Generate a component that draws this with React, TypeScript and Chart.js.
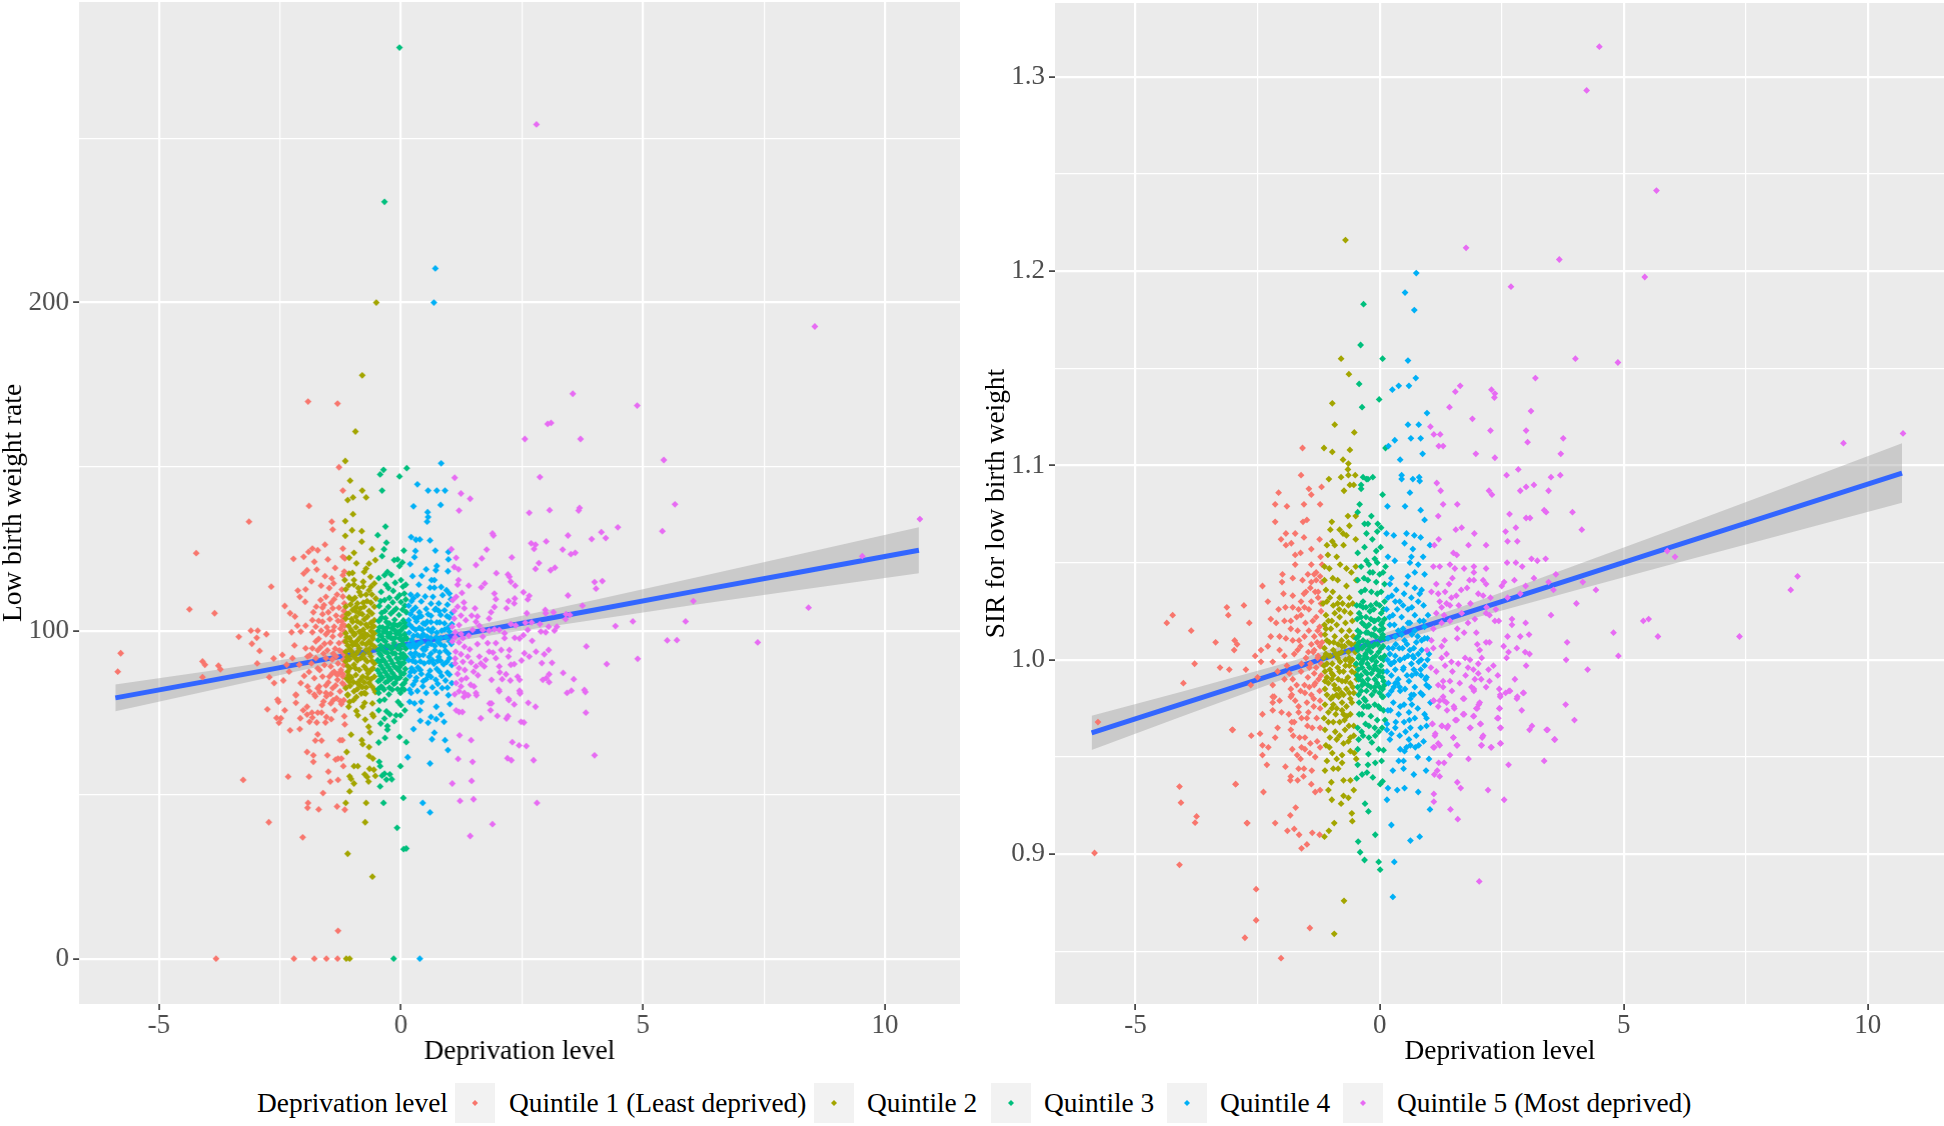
import React, { useEffect, useRef } from "react";
import { Chart, registerables } from "chart.js";
Chart.register(...registerables);

const xMajor = [-5, 0, 5, 10];
const xMinor = [-2.5, 2.5, 7.5];
const leftYMajor = [0, 100, 200];
const leftYMinor = [50, 150, 250];
const rightYMajor = [0.9, 1.0, 1.1, 1.2, 1.3];
const rightYMinor = [0.85, 0.95, 1.05, 1.15, 1.25];

const quintileNames = ["Quintile 1 (Least deprived)", "Quintile 2", "Quintile 3", "Quintile 4", "Quintile 5 (Most deprived)"];
const quintileColors = ["#F8766D", "#A3A500", "#00BF7D", "#00B0F6", "#E76BF3"];

const fitX = [-5.9, -4, -2, 0, 2, 4, 6, 8, 10.7];
const leftFit = [79.5, 84.6, 90.1, 95.5, 100.9, 106.3, 111.8, 117.2, 124.5];
const leftUpper = [83.6, 87.6, 92.1, 97, 102.9, 109.3, 115.9, 122.5, 131.5];
const leftLower = [75.4, 81.6, 88.1, 94, 98.9, 103.3, 107.7, 111.9, 117.5];
const rightFit = [0.9624, 0.9777, 0.9938, 1.0099, 1.026, 1.0421, 1.0582, 1.0743, 1.0961];
const rightUpper = [0.9712, 0.984, 0.9979, 1.0129, 1.0301, 1.0485, 1.0671, 1.0859, 1.1114];
const rightLower = [0.9536, 0.9714, 0.9897, 1.0069, 1.0219, 1.0357, 1.0493, 1.0627, 1.0808];

// x, y pairs (Low birth weight rate)
const leftQ1 = [-3.82,0,-2.21,0,-1.79,0,-1.54,0,-1.31,0,-1.3,8.5,-3.26,54.5,-2.33,55.5,-1.9,55.5,-1.46,54,-1.3,54.5,-1.61,50.5,-2.73,41.6,-2.03,37,-1.92,47.5,-1.93,46,-1.7,45.5,-1.32,46.4,-1.16,45.4,-1.5,57,-1.19,58.7,-1.81,60,-1.94,63,-1.81,62,-1.52,62,-1.3,61,-1.35,60.7,-1.23,61,-1.77,66.5,-1.64,66.5,-1.26,66.6,-1.21,66.6,-1.72,68.4,-2.29,69.6,-2.09,70,-2.52,71.9,-2.57,73.4,-2.48,73.3,-2.76,76,-2.4,75.7,-2.53,78.3,-2.17,78,-2.17,80.3,-2.08,73.3,-2.02,75.7,-1.94,76.8,-1.94,74.4,-1.84,75,-1.83,73.5,-1.89,72.2,-1.74,72,-1.72,75,-1.64,75,-1.63,77.3,-1.56,72,-1.54,73.7,-1.44,73,-1.37,75.7,-1.17,73.9,-1.16,71.4,-1.45,77.8,-1.4,78.8,-1.23,77.6,-1.18,78.8,-1.77,80,-1.54,80,-1.68,81.3,-1.89,81.5,
-1.92,169.8,-1.31,169.2,-1.28,149.8,-1.2,142.7,-1.9,138,-3.14,133.2,-1.43,133.2,-1.41,130.8,-4.23,123.6,-1.57,126.2,-1.72,124.5,-1.83,125,-1.91,124,-2.01,122.5,-2.22,121.9,-1.2,125,-1.2,122.5,-1.16,122,-1.51,121.7,-1.79,121,-1.36,119.1,-1.74,118.6,-1.94,118.4,-2.01,117.4,-1.57,116.6,-1.43,115.9,-1.39,114.4,-1.2,116.9,-2.68,113.4,-2.13,112.2,-1.97,112.6,-2.09,110.3,-1.98,108.8,-2.4,107.5,-1.55,110.3,-1.66,109.3,-1.38,109.6,-1.59,107.8,-1.41,106.8,-1.5,105.6,-1.17,108.3,-1.21,104.3,-1.81,105.6,-1.83,103.2,-2.29,105.3,-2.19,104.3,-4.37,106.5,-3.85,105.3,-2.14,101.5,-1.97,101.5,-1.76,101.2,-1.62,102.7,-1.38,101.2,-1.21,101.7,-2.26,99.5,-2.07,99.7,-1.83,99.5,-1.55,98.9,-1.41,98.2,-1.17,99.7,-3.1,100,-2.96,100,-2.78,98.9,-3.35,98.1,-2.98,97.8,-3.08,96,-2.2,95.5,-1.76,96.7,-1.97,94.6,-1.83,94.6,-1.66,94.9,-1.28,96.2,-1.17,96.7,-2.92,93.8,-5.79,93.1,-4.1,90.6,-4.05,89.6,-3.77,89.3,-3.73,88.2,-2.63,91.5,-2.45,92.6,-2.24,91.6,-2.36,89.6,-2.97,90,-1.93,92.1,-1.76,91.6,-1.55,91.6,-1.34,92.1,-1.19,91.1,-2.1,89.6,-5.85,87.5,-4.1,85.8,-2.72,85.8,-2.62,84,-2.43,84.8,-2.31,87.5,-2.07,84,-1.93,83,-1.79,85.5,-1.62,86,-1.45,89.1,-1.38,87.5,-1.24,88,-1.48,86,-1.31,85,-1.21,84,-1.69,83,-2.17,80.5,-1.79,80.5,-1.41,82.5,-1.55,81,-2.55,79,
-1.85,90,-1.68,88,-1.52,94,-1.36,94.5,-1.22,93.5,-1.18,89.5,-1.3,90,-1.42,91.2,-1.6,93,-1.7,97.5,-1.46,96.3,-1.25,98.7,-1.65,100,-1.47,103.5,-1.3,103,-1.18,106,-1.2,110.4,-1.62,107,-1.32,86.5,-1.2,86,-1.35,83.3,-1.26,81.5,-1.5,84.2,-1.9,87.4,-2.0,86.2,
-1.72,88.5,-1.58,89.5,-1.42,87,-1.28,87,-1.16,92.5,-1.27,94,-1.4,93,-1.58,96,-1.72,94,-1.88,92.5,-1.25,100.6,-1.4,100,-1.53,101,-1.7,103,-1.34,104.6,-1.22,102.8,-1.16,101.5,-1.5,99.7,-1.28,107,-1.44,108.5,-1.62,105,-1.75,107.3,-1.32,111,-1.22,112.5,-1.48,113,-1.65,113.7,-1.85,115,-1.17,118,-1.2,86.8,-1.17,83.4,-1.55,83.3,-1.72,82.4,-1.45,80.7,-1.33,79.4,-1.25,78.5,-1.6,78.4];
const leftQ2 = [-1.13,0,-1.06,0,-0.59,25,-1.1,32,-0.74,41.6,-1.14,47.5,-0.72,47.5,-1.06,51,-0.97,53.4,-0.67,54,-1.06,55.6,-1.03,54.8,-0.75,56.2,-0.7,55.4,-0.53,55.7,-0.65,57.9,-0.56,57.6,-0.97,58.7,-0.89,58.7,-0.58,61,-0.66,61.8,-1.12,63,-0.66,64.5,-0.81,66.6,-0.79,65.4,-1.03,68.3,-0.64,69,-0.67,70.7,-0.74,72.9,-0.59,74.5,-0.57,73.9,-0.89,74.2,-0.92,75.5,-1.08,76.8,-1.06,78.3,-0.79,76.8,-0.75,78,-0.59,77.8,-0.98,78.8,-0.92,79.8,-1.1,80.3,-0.82,80.8,-0.73,80.8,-0.53,81.3,-0.51,200,-0.8,177.8,-0.94,160.7,
-1.15,151.7,-1.05,145.7,-0.8,142.7,-0.99,140.6,-1.1,139.8,-0.72,140.6,-0.99,135.5,-1.15,133.4,-1.01,130.6,-0.81,130.3,-1.15,128.9,-0.81,127.1,-0.6,124.8,-0.97,123.7,-1.07,122.2,-0.92,120.5,-0.53,121.5,-0.66,120.4,-0.72,118.9,-1.07,117.4,-1,117.6,-0.76,117.9,-0.63,116.4,-1.16,115.4,-0.97,115.4,-0.97,114,-0.78,114.9,-0.78,113.4,-0.55,114.4,-0.62,113.4,-1.14,112.6,-0.86,111.8,-0.66,112.3,-0.83,110.8,-0.52,109.8,-1.07,110.1,-0.9,108.3,-0.55,107.3,-0.76,107.3,-1.14,107.3,-1,106.3,-0.86,105.3,-0.69,104.3,-0.55,103.2,-1.14,103.7,-1,102.7,-0.83,102.2,-0.69,101.2,-1.03,100.2,-0.86,99.7,-0.55,99.2,-1.14,99.2,-0.97,98.7,-0.76,97.7,-0.66,96.7,-1.14,96.7,-1,95.6,-0.86,94.6,-0.55,95.1,-0.72,94.1,-1.14,93.6,-1,92.6,-0.83,91.6,-0.62,92.1,-0.55,90,-1.14,90.6,-0.97,89.6,-0.76,89.1,-0.62,88,-1.1,87.5,-0.93,86.5,-0.79,86,-0.55,86,-1.07,84.5,-0.86,83.5,-0.66,84,-1.14,82.5,-0.97,81.5,-0.76,81,-0.55,82,-1.1,80.5,
-1.08,105.2,-0.93,104.2,-0.76,103.4,-0.62,102.4,-1.08,101.4,-0.93,101,-0.78,100.3,-0.62,99.9,-1.06,97.7,-0.9,97,-0.69,98.6,-0.58,97.6,-1.06,94.4,-0.92,93,-0.78,92.7,-0.65,94.4,-1.06,91.3,-0.9,90.9,-0.7,90.6,-1.05,88.6,-0.86,88,-0.68,87,-1.02,85.7,-0.84,85,-0.7,85.6,-1.05,83.2,-0.9,82.2,-0.72,82.7,-0.6,83,-0.84,106.7,-0.66,106,-0.93,107.2,-0.7,109,-1,109.4,-0.6,101,-0.8,96.2,-0.96,96,-0.62,96,-0.8,98.7,-1.1,95.5,
-1.02,99.8,-0.95,99,-0.84,98,-0.74,99,-0.6,98.2,-1.12,98,-1.02,96.6,-0.9,95.5,-0.72,95.8,-0.65,93,-0.88,93.8,-1.02,93.7,-1.11,92,-0.95,91.8,-0.74,91.3,-0.6,90.8,-1.1,89.2,-0.94,88.5,-0.72,88.3,-0.58,88.5,-1.08,86.4,-0.98,84.3,-0.76,84.3,-0.62,85.2,-1.12,85.3,-0.9,84,-0.8,82.8,-1.02,103.5,-0.9,102.8,-0.72,101.8,-0.56,101.3,-1.12,105,-0.94,106,-0.8,105,-0.6,105.2,-1.04,108,-0.78,108.5,-0.62,108.5,-0.95,110,-0.72,111,-0.6,111,-0.88,113,-1.08,113.8];
const leftQ3 = [-0.15,0,0.055,33.4,0.11,33.6,-0.08,39.9,0.05,49,-0.36,47.5,-0.43,52.5,-0.19,54.7,-0.3,54.6,-0.23,56.2,-0.34,56.4,-0.39,55.8,-0.01,58.7,-0.45,60,-0.43,58.7,-0.46,65.9,-0.33,67.3,-0.03,67.6,0.11,66,-0.28,69.8,-0.28,70.9,-0.42,71.7,-0.14,72.4,-0.34,73.2,-0.23,74.5,-0.1,74.2,-0.01,74.2,-0.3,75.4,-0.46,75.7,0.08,75.7,0,77.3,-0.06,78.3,-0.44,78.6,-0.34,79,-0.25,80.6,-0.01,81,-0.46,81,-0.34,230.7,-0.03,277.7,
-0.36,149,-0.43,147.6,0.12,149.5,-0.03,147,-0.39,142.7,-0.32,131.7,-0.48,129.1,-0.3,126.8,-0.35,124.8,-0.39,122.7,0.06,124.4,-0.14,121.5,-0.07,121.7,0.03,120.8,-0.03,119.7,-0.28,117.9,-0.34,116.9,-0.46,116,0,115.4,0.1,114,-0.31,114,-0.41,111.8,-0.16,112.1,-0.03,110.8,0.07,111.3,-0.34,109.3,-0.17,108.6,0,108.7,0.08,107.6,-0.45,107.5,-0.26,107.2,-0.1,106.7,0.11,105.6,-0.4,105.4,-0.21,105.2,-0.04,104.8,-0.32,103.8,-0.13,103.3,0.05,103.1,-0.46,102.9,-0.24,102.2,-0.07,101.5,0.1,101.3,-0.38,101,-0.18,100.6,0,100.1,-0.47,100,-0.3,99.5,-0.1,99.1,0.08,99,-0.4,98.3,-0.22,97.9,-0.03,97.6,0.12,97.5,-0.47,97.1,-0.32,96.7,-0.14,96.2,0.03,95.9,-0.42,95.5,-0.25,95.2,-0.07,94.6,0.1,94.5,-0.47,94,-0.33,93.6,-0.17,93.1,0,92.9,-0.41,92.4,-0.25,92,-0.09,91.6,0.08,91.4,-0.48,91,-0.33,90.5,-0.17,90,0.02,89.9,-0.42,89.4,-0.26,88.9,-0.09,88.5,0.09,88.3,-0.48,87.9,-0.33,87.4,-0.17,87,0.01,86.8,-0.42,86.2,-0.25,85.6,-0.08,85.2,0.1,85,-0.47,84.6,-0.32,84.2,-0.15,83.8,0.03,83.5,-0.41,83,-0.24,82.6,-0.07,82.2,0.07,82,-0.47,82.2,-0.35,82,
-0.4,104,-0.28,101,-0.14,102,0.04,100.8,-0.36,99.6,-0.22,99.2,-0.05,99.5,-0.37,97.3,-0.18,97.6,0.05,97.2,-0.38,94.4,-0.2,94.3,-0.02,94.3,0.05,92.8,-0.37,91.2,-0.21,91,-0.05,90.3,-0.37,88.4,-0.22,88,-0.04,87.8,-0.38,85.7,-0.2,85.4,-0.02,85.7,
-0.44,103.2,-0.3,102.6,-0.16,101.4,-0.02,102,0.08,102.4,-0.44,101,-0.33,100,-0.12,100,-0.01,98.5,0.1,98,-0.27,98.2,-0.44,98.6,-0.12,97.8,0.02,97,-0.3,95.5,-0.18,95,-0.04,95.3,0.08,95.3,-0.44,93,-0.28,93.2,-0.12,93,-0.01,91.7,0.1,92,-0.44,90.4,-0.29,89.6,-0.13,89,-0.02,89,0.06,90.2,-0.44,87,-0.28,86.4,-0.12,86,0.06,86.9,-0.43,85,-0.27,84.6,-0.12,84,0.07,84,-0.38,82.6,-0.18,82,0.02,82.2,-0.15,106,0.03,106.4,-0.33,106,-0.42,109,-0.24,110,-0.08,110,0.1,109.5,-0.26,113,-0.12,114.6,0.04,113.4,-0.2,117];
const leftQ4 = [0.39,0,0.6,44.6,0.45,47.5,0.6,59.5,0.14,61.4,0.97,63.6,0.91,66.6,0.64,66.9,0.69,68.9,0.26,70,0.4,72.5,0.56,71.9,0.62,73.7,0.73,73,0.83,74.4,0.89,72.2,1.01,77.6,0.73,76.8,0.39,75.7,0.28,77.8,0.18,78.3,0.42,78.3,0.98,80.3,0.73,81,0.52,81,0.21,81,0.71,210.4,0.68,200,
0.83,151,0.34,144.6,0.56,142.7,0.74,142.7,0.91,142.7,0.26,137.9,0.82,138.3,0.55,136.1,0.56,134.6,0.54,133.2,0.21,128.5,0.31,127.7,0.39,127.8,0.6,127.5,0.3,124.3,0.71,124.4,0.98,124,0.28,122.4,0.98,121.7,0.19,120.3,0.74,119.7,0.52,118.7,0.72,118.4,0.97,118.1,0.24,116.6,0.43,116.7,0.63,115.4,0.69,115.4,0.37,114,0.6,113.1,0.69,113.1,0.83,113.3,0.94,112.3,1,111.3,
0.2,111,0.34,110.8,0.5,110.4,0.66,110.3,0.86,110.8,1.03,109.6,0.22,109,0.42,108.9,0.62,108.2,0.78,108.3,0.96,107.9,0.16,107.6,0.3,107,0.52,106.6,0.72,106.7,1.06,105.5,0.2,105,0.42,104.4,0.62,104.5,0.82,104.8,0.95,104.4,0.16,103.2,0.32,102.8,0.54,102.7,0.74,102.5,0.9,102.2,1.05,102,0.24,100.9,0.44,100.3,0.66,100.6,0.84,100,1,99.7,0.17,99.4,0.34,98.6,0.54,98.2,0.73,98,0.93,98,0.22,97.2,0.42,96.4,0.62,96,0.82,95.8,1.04,95.9,0.16,95.6,0.3,94.8,0.5,94.2,0.7,94,0.92,93.9,0.2,93,0.38,92.4,0.58,92,0.78,92,1,91.6,0.16,91,0.3,90.4,0.48,90,0.68,89.9,0.88,89.7,1.05,89.5,0.22,88.5,0.4,88,0.6,87.8,0.8,87.4,0.96,87.2,0.18,86.2,0.32,85.6,0.52,85.2,0.72,85,0.92,84.8,1.05,84,0.25,83.5,0.45,83,0.65,82.7,0.85,82.5,0.18,82,0.34,81.6,
0.26,109.9,0.7,106.4,0.36,104,0.5,102,0.3,100.2,0.63,99.6,0.42,98,0.26,96,0.56,96,0.76,96.6,0.26,92,0.45,94.4,0.65,91,0.82,90.8,0.35,88.8,0.28,87.6,0.56,86.5,0.74,88.3,
0.24,106.2,0.38,105.6,0.56,105,0.78,106,0.9,106.2,1.0,104,0.28,104,0.46,102.2,0.62,102.6,0.8,102.5,0.98,101,0.18,101.8,0.38,100.8,0.56,100.4,0.74,99.4,0.9,100.3,0.26,98.4,0.46,98.9,0.62,97.7,0.82,97.7,1.0,96.8,0.2,95,0.36,95.8,0.52,95,0.7,95.3,0.9,95.3,0.3,93.2,0.46,92.6,0.62,93,0.8,93.4,0.98,93,0.24,90.8,0.4,90.6,0.58,90.5,0.76,90.8,0.95,90.5,0.2,87.4,0.42,86.8,0.62,85.9,0.84,86.2,1.0,86.6,0.3,84.7,0.46,84.6,0.76,83.8,0.96,82.6];
const leftQ5 = [3.43,81,3.81,81.3,3.82,75,4,62,2.81,47.5,1.89,41,1.43,37.4,1.5,48.6,1.22,48.1,1.46,54.2,1.06,53.4,1.18,60.9,1.48,60,2.2,61.1,2.28,60.5,2.74,60.5,2.3,66,2.44,65,2.59,64.8,1.45,66.6,1.21,68.1,2.48,72.2,2.54,72,2.18,73.2,2.21,73.9,1.65,73.3,1.99,74,1.85,75.7,1.14,75.7,1.27,75.2,1.2,75.2,1.83,77.8,1.87,77.8,2.34,77.5,2.23,78.8,2.63,78,2.78,76.8,1.56,80.3,1.39,80.3,1.3,79.8,1.11,80.6,1.2,81.5,2.03,81.5,2.46,81.3,2.46,80.8,
3.55,172.2,4.88,168.6,3.03,163,3.1,163.3,2.8,254.3,8.55,192.7,2.56,158.4,3.71,158.4,5.43,152,1.11,146.6,2.87,146.8,1.24,141.8,1.43,140.2,1.2,136.6,2.65,135.9,3.07,136.7,3.69,137.4,3.67,136.6,5.66,138.5,4.48,131.5,5.4,130.3,10.72,134,1.89,129.6,1.91,129,3.45,129,4.14,130,3.94,127.9,4.23,128.2,3,127.2,2.69,126.6,2.78,126.2,2.75,124.9,3.34,124.7,1.04,124.8,1.77,124.7,3.6,123.7,3.51,123.3,1.67,122,1.14,122.2,2.29,122.3,2.85,120.6,1.55,120,1.1,119.4,1.19,118.7,2.78,118.8,3.09,118.4,3.18,119.2,1.97,117.5,2.21,117.1,2.24,116.4,2.27,114.9,2.36,113.7,1.19,115.4,1.17,114,1.4,113.7,1.73,114.4,1.66,113.2,4,114.8,4.16,115.1,4.03,112.8,2.53,111.7,2.65,110.6,2.62,109.5,1.93,111.3,1.96,109.6,3.45,110.7,2.35,109.8,2.34,108.3,2.22,109,1.26,111.5,1.14,110.3,1.07,109.3,1.3,108.6,1.17,107.3,1.31,106.8,1.93,107.2,2.18,106.8,3.75,107.6,6.04,109,8.42,107,9.53,122.7,1.53,106.8,1.86,105.6,2.6,105.3,2.98,106.3,2.99,105.3,3.15,105.6,3.41,105,3.49,104.8,3.4,103.5,1.82,103.7,1.58,104.3,1.55,102.7,1.34,103.2,1.1,103.7,1.2,101.7,1.06,101.2,2.27,102,2.37,101.6,2.57,102.4,2.7,102.5,2.87,102,3.05,101.2,3.22,101.2,2.62,100.2,2.89,99.7,2.99,99.5,3.17,100,4.43,101.4,4.79,102.8,5.88,102.8,1.48,100.2,1.69,100.2,1.93,100.4,2.14,99.2,1.82,100,2.03,100.2,2.53,98.6,5.5,97,5.7,97.1,7.37,96.4,3.83,95.2,4.89,91.4,4.25,89.8,2.71,96.9,3.05,94.1,2.79,93.6,2.96,92.8,2.65,92.1,2.55,93.1,2.91,90.1,3.12,90.2,2.49,90.9,2.34,89.8,2.27,89.6,2.22,92.1,2.24,94.1,2.07,94.1,2.14,97.7,2.35,97.8,2.45,97.6,1.96,96.2,1.79,96.2,1.58,95.9,1.69,98.2,1.28,97.7,1.06,96.7,1.31,95.1,1.13,93.6,1.38,92.1,1.62,92.1,1.82,93.6,1.96,91.6,1.75,91.1,2.03,89.1,1.72,89.1,1.55,89.1,1.2,88.6,2.04,87.3,2.17,86.7,2.41,86,2.45,85,2.26,84.8,2.09,85.2,1.87,85,1.59,86.4,1.51,83,1.35,85.5,1.17,86.8,1.14,84,3.35,87.1,3.57,85.2,3.06,86.7,2.93,85,3.06,84.3,3,85.5,3.52,81.7,3.79,81.9,2.02,82,2.45,81.7,1.31,81,1.55,81,2.22,79.2,
1.12,99.5,1.24,99,1.4,98.5,1.12,98,1.2,96.4,1.42,94.3,1.24,92.8,1.12,91.5,1.28,90.5,1.45,90.3,1.12,90,1.32,88,1.5,87.5,1.25,85,1.44,83.5,1.24,83,1.65,90,1.9,93.3,1.46,104.6,1.62,101.5,1.24,104.6,1.1,106];

// x, y pairs (SIR for low birth weight)
const rightQ1 = [-5.84,0.9006,-5.77,0.968,-4.1,0.8945,-2.02,0.8465,-4.1,0.9348,-4.07,0.9265,-3.75,0.9194,-3.78,0.9162,-3.02,0.964,-2.95,0.936,-2.72,0.916,-2.53,0.882,-2.53,0.866,-2.76,0.857,-1.43,0.862,
-1.58,1.109,-1.61,1.095,-1.19,1.089,-1.45,1.088,-2.07,1.086,-1.4,1.085,-2.14,1.08,-1.9,1.079,-1.55,1.08,-1.22,1.08,-2.14,1.071,-1.57,1.071,-1.49,1.072,-1.92,1.065,-1.73,1.065,-2.02,1.062,-1.55,1.063,-1.23,1.062,-1.92,1.059,-1.81,1.06,-1.4,1.057,-1.73,1.054,-1.62,1.055,-1.21,1.053,-1.73,1.049,-1.4,1.049,-1.18,1.049,-1.99,1.044,-1.47,1.044,-1.34,1.044,-1.78,1.042,-2,1.04,-1.58,1.041,-1.4,1.04,-1.3,1.041,-2.4,1.038,-1.97,1.034,-1.78,1.033,-1.51,1.035,-1.32,1.035,-1.61,1.03,-1.4,1.03,-2.29,1.03,-1.54,1.027,-1.2,1.029,-2.07,1.026,-1.93,1.027,-1.78,1.027,-3.13,1.027,-2.78,1.028,-3.1,1.023,-4.24,1.023,-4.36,1.019,-2.67,1.019,-3.86,1.015,-2.23,1.021,-2.12,1.019,-1.95,1.02,-1.82,1.02,-1.61,1.023,-1.37,1.02,-1.23,1.017,-1.82,1.016,-1.68,1.015,-2.23,1.012,-1.92,1.011,-1.78,1.01,-1.54,1.012,-1.34,1.012,-1.2,1.013,-3.36,1.009,-2.97,1.01,-2.92,1.008,-2.98,1.005,-2.05,1.005,-2.29,1.007,-2.43,1.005,-2.55,1.002,-2.43,0.999,-2.19,0.999,-1.95,1.002,-1.68,1.005,-1.51,1.001,-1.34,1.005,-1.27,1.001,-3.79,0.998,-3.27,0.996,-3.08,0.995,-2.74,0.995,-4.02,0.988,-2.64,0.987,-2.5,0.991,-2.19,0.987,-2.09,0.994,-1.85,0.993,-1.78,0.99,-1.61,0.994,-1.44,0.996,-1.34,0.993,-1.34,0.987,-1.54,0.987,-1.23,0.984,-2.19,0.981,-1.82,0.981,-1.4,0.982,
-2.19,0.978,-2.4,0.972,-2.19,0.974,-2.01,0.973,-2.05,0.979,-2.16,0.981,-1.8,0.982,-1.73,0.979,-1.66,0.976,-1.66,0.973,-1.86,0.972,-1.49,0.978,-1.46,0.973,-1.49,0.97,-1.29,0.97,-1.22,0.979,-1.35,0.98,-1.32,0.988,-1.53,0.983,-1.8,0.968,-2.09,0.965,-3.01,0.964,-2.63,0.961,-2.45,0.962,-2.14,0.96,-1.82,0.964,-1.77,0.961,-1.64,0.96,-1.53,0.96,-2.4,0.956,-2.28,0.955,-2.4,0.951,-1.79,0.954,-1.69,0.951,-1.53,0.954,-1.43,0.952,-1.32,0.95,-1.62,0.949,-2.31,0.946,-1.93,0.945,-1.66,0.944,-1.55,0.944,-1.39,0.943,-1.82,0.94,-1.83,0.938,-1.68,0.938,-1.56,0.94,-2.95,0.936,-1.4,0.936,-2.38,0.932,-1.32,0.932,-1.22,0.933,-1.72,0.924,-1.83,0.92,-2.71,0.916,-2.14,0.916,-1.89,0.912,-1.75,0.913,-1.65,0.91,-1.38,0.911,-1.23,0.91,-1.6,0.903,-1.49,0.905,
-1.22,1.007,-1.28,1.009,-1.4,1.008,-1.26,1.002,-1.2,0.998,-1.3,0.996,-1.46,1.004,-1.65,1.01,-2.05,1.012,-1.2,1.025,-1.26,1.035,-1.18,1.04,-1.2,0.992,-1.44,0.986,-1.62,0.984,-1.95,0.99,-1.22,0.975,
-1.3,1.045,-1.22,1.043,-1.42,1.037,-1.26,1.032,-1.55,1.034,-1.66,1.026,-1.45,1.026,-1.3,1.022,-1.52,1.019,-1.7,1.022,-1.27,1.015,-1.45,1.015,-1.62,1.007,-1.36,1.004,-1.18,1.009,-1.75,1.003,-1.9,0.997,-1.6,0.998,-1.42,0.998,-1.25,0.99,-1.47,0.991,-1.7,0.987,-1.82,0.985,-1.35,0.976,-1.6,0.97,-1.75,0.968,-1.38,0.965,-1.22,0.965,-1.48,0.966,-1.28,0.958,-1.42,0.957,-1.22,0.955,-1.6,0.955];
const rightQ2 = [-0.7,1.216,-0.79,1.155,-0.63,1.147,-0.97,1.132,-0.92,1.121,-0.52,1.117,-1.14,1.109,-0.97,1.107,-0.61,1.108,-0.75,1.103,-0.64,1.101,-0.65,1.098,-1.04,1.093,-0.79,1.094,-0.64,1.095,-0.5,1.095,-0.61,1.09,-0.53,1.09,-0.73,1.087,-0.65,1.074,-0.49,1.074,-0.98,1.071,-1.01,1.067,-0.82,1.067,-0.62,1.069,-0.75,1.065,-0.68,1.064,-0.49,1.062,-0.97,1.061,-1.08,1.059,-0.92,1.059,-0.74,1.059,-1.06,1.054,-0.88,1.053,-0.81,1.049,-0.68,1.047,-0.49,1.048,-1.13,1.048,-1.03,1.047,-0.96,1.042,-0.58,1.045,-0.48,1.041,-0.86,1.041,-1.13,1.041,-0.68,1.038,-1.1,1.036,-0.96,1.035,-0.82,1.032,-0.62,1.032,-1.02,1.032,-1.16,1.029,-0.86,1.029,-0.55,1.029,-0.72,1.025,-1.1,1.023,-0.92,1.024,-0.6,1.024,-0.82,1.022,-1.05,1.02,-1.13,1.018,-0.88,1.018,-0.7,1.019,-0.56,1.02,-1,1.016,-0.78,1.015,-0.62,1.015,-1.12,1.013,-0.92,1.012,-0.68,1.012,-0.54,1.012,-1.03,1.009,-0.85,1.008,-0.72,1.007,-0.58,1.008,-1.13,1.006,-0.95,1.005,-0.78,1.004,-0.64,1.004,-0.5,1.004,-1.04,1.002,-0.86,1.001,-0.7,1,-0.56,1,-1.15,1.001,
-0.73,0.876,-0.93,0.859,-1.13,0.909,-1.04,0.912,-0.93,0.916,-0.57,0.921,-0.56,0.917,-0.98,0.928,-0.79,0.926,-0.74,0.93,-0.64,0.929,-1.05,0.933,-0.53,0.933,-0.99,0.937,-0.74,0.938,-0.6,0.938,-1.12,0.943,-0.95,0.944,-0.85,0.944,-0.77,0.947,-1.08,0.948,-0.88,0.949,-0.77,0.951,-0.48,0.949,-1.03,0.955,-0.97,0.952,-0.6,0.953,-0.52,0.952,-0.88,0.959,-0.74,0.957,-0.64,0.958,-0.53,0.961,-1.12,0.964,-0.91,0.963,-0.71,0.964,-0.53,0.966,-1.05,0.973,-0.77,0.974,-0.67,0.971,-0.95,0.977,-0.77,0.978,-0.57,0.978,-1.08,0.982,-0.88,0.982,-0.74,0.982,-0.53,0.983,-1.05,0.988,-0.91,0.985,-0.77,0.989,-0.6,0.988,-0.47,0.99,-1.12,0.994,-0.95,0.992,-0.74,0.994,-0.57,0.994,-1.08,0.998,-0.81,0.999,-0.6,0.999,-1.01,1.002,-0.84,1.003,
-1.14,0.997,-0.97,0.998,-0.7,0.997,-0.5,0.997,-1.02,0.995,-0.86,0.996,-0.65,0.991,-0.85,0.99,-1.12,0.989,-0.98,0.99,-0.68,0.985,-1.12,0.985,-0.84,0.985,-0.62,0.983,-1,0.98,-0.84,0.981,-0.98,0.975,-0.68,0.976,-0.9,0.972,-0.6,0.972,-0.82,0.968,-1.14,0.97,-0.72,0.969,
-1.08,1.03,-0.95,1.028,-0.76,1.029,-0.64,1.028,-1.1,1.016,-0.98,1.02,-0.83,1.026,-0.94,1.009,-0.78,1.01,-0.64,1.009,-0.5,1.008,-1.08,1.01,-0.9,1.003,-0.77,1.007,-0.62,1.001,-1.1,1.003,-0.98,0.993,-0.82,0.994,-0.62,0.997,-0.5,0.993,-1.08,0.991,-0.93,0.987,-0.7,0.989,-0.55,0.986,-0.96,0.981,-0.78,0.983,-0.6,0.98,-1.12,0.977,-0.88,0.975,-0.74,0.972,-1.05,0.968,-0.95,0.968,-0.63,0.966,-0.82,0.961,-1.02,0.96,-1.1,0.956,-0.6,0.96];
const rightQ3 = [-0.33,1.183,-0.39,1.162,0.06,1.155,-0.42,1.142,-0.01,1.134,-0.36,1.13,0.12,1.109,-0.34,1.094,-0.27,1.093,-0.14,1.094,-0.38,1.09,-0.38,1.088,0.06,1.085,-0.24,1.093,-0.41,1.08,-0.45,1.076,-0.17,1.074,-0.24,1.07,-0.31,1.07,0.03,1.068,-0.05,1.066,-0.27,1.065,-0.31,1.058,-0.07,1.056,-0.45,1.055,-0.27,1.051,-0.22,1.049,-0.05,1.05,0.12,1.048,-0.14,1.045,0.07,1.045,-0.07,1.04,-0.45,1.041,-0.24,1.041,0.1,1.039,-0.38,1.035,-0.17,1.035,0.03,1.035,-0.34,1.03,-0.07,1.029,0.1,1.03,-0.47,1.028,-0.2,1.025,0.03,1.024,-0.38,1.022,-0.1,1.02,0.1,1.021,-0.27,1.017,-0.45,1.015,0,1.015,-0.17,1.013,0.1,1.011,-0.34,1.01,-0.48,1.011,-0.1,1.008,0.03,1.006,-0.45,1.005,-0.24,1.005,0.1,1.002,-0.34,1,-0.07,0.999,-0.48,0.998,-0.21,0.996,0.07,0.994,-0.38,0.992,-0.1,0.99,0.1,0.987,-0.45,0.986,-0.27,0.984,0,0.983,0.07,0.981,
0.01,0.892,-0.02,0.896,-0.31,0.897,-0.4,0.901,-0.44,0.9065,-0.09,0.91,-0.23,0.922,-0.3,0.926,0.06,0.9375,0.01,0.936,-0.14,0.9395,-0.26,0.942,-0.36,0.941,-0.47,0.939,-0.09,0.947,0.04,0.948,-0.24,0.946,-0.45,0.946,-0.23,0.9515,0.08,0.9535,-0.02,0.954,-0.45,0.954,-0.16,0.9575,-0.09,0.961,-0.43,0.959,-0.34,0.961,0.05,0.965,-0.29,0.967,-0.45,0.965,0.11,0.969,-0.05,0.969,-0.18,0.971,-0.36,0.972,0.01,0.975,-0.33,0.976,-0.02,0.976,-0.16,0.982,0.05,0.981,-0.43,0.982,-0.29,0.979,-0.36,0.987,-0.05,0.988,0.08,0.989,-0.26,0.993,-0.43,0.99,-0.05,0.995,-0.36,0.996,-0.16,1,0.08,1,-0.43,1.001,-0.29,1.003,
-0.4,1.028,-0.28,1.027,-0.12,1.026,0.08,1.026,-0.42,1.024,-0.28,1.022,-0.18,1.021,-0.02,1.021,0.05,1.019,-0.36,1.019,-0.22,1.018,-0.1,1.016,0.07,1.016,-0.4,1.014,-0.28,1.014,-0.08,1.012,0.02,1.011,-0.42,1.009,-0.25,1.009,-0.14,1.007,0.07,1.007,-0.36,1.006,-0.18,1.004,-0.02,1.004,-0.42,1.002,-0.3,1.002,-0.14,1.001,0.02,1.001,-0.38,0.998,-0.25,0.998,-0.1,0.997,0.03,0.997,-0.44,0.995,-0.3,0.994,-0.17,0.993,-0.03,0.992,-0.42,0.991,-0.24,0.99,0.05,0.991,-0.32,0.988,-0.18,0.986,0,0.986,-0.38,0.984,-0.1,0.984,-0.32,0.98,-0.22,0.976,
-0.34,1.027,-0.18,1.028,0,1.028,-0.46,1.021,-0.32,1.018,-0.12,1.02,0.03,1.018,-0.24,1.014,-0.13,1.013,0.06,1.013,-0.44,1.012,-0.32,1.007,-0.2,1.007,-0.04,1.008,-0.47,1.007,-0.26,1.001,-0.08,1.002,-0.36,0.999,-0.46,0.992,-0.12,0.995,0.01,0.994,-0.35,0.989,-0.24,0.987,-0.1,0.986,0.06,0.985,-0.42,0.978,-0.26,0.976,-0.1,0.977,0.08,0.974,-0.42,0.972,-0.22,0.966,-0.1,0.965,-0.37,0.963,-0.22,0.96,-0.02,0.963,-0.3,1.036,-0.05,1.034,-0.2,1.045,0,1.044,-0.38,1.048,-0.1,1.052,0.02,1.058,-0.15,1.062,-0.04,1.07,-0.32,1.042];
const rightQ4 = [0.75,1.199,0.52,1.189,0.71,1.18,0.58,1.154,0.74,1.145,0.6,1.141,0.39,1.141,0.26,1.139,0.97,1.127,0.58,1.121,0.8,1.121,0.64,1.114,0.84,1.114,0.31,1.113,0.18,1.11,0.88,1.106,0.42,1.103,0.45,1.095,0.45,1.093,0.68,1.093,0.81,1.094,0.82,1.092,0.62,1.086,0.16,1.079,0.52,1.079,0.84,1.077,0.92,1.072,0.14,1.065,0.29,1.064,0.55,1.065,0.71,1.064,0.84,1.063,0.51,1.06,0.68,1.057,1.03,1.059,0.17,1.053,0.31,1.051,0.62,1.05,0.89,1.053,0.65,1.053,0.79,1.049,0.24,1.042,0.58,1.043,0.72,1.045,0.92,1.044,0.21,1.039,0.34,1.036,0.55,1.039,0.86,1.036,0.72,1.037,0.17,1.032,0.41,1.03,0.65,1.032,0.79,1.03,0.48,1.028,0.14,1.026,0.27,1.023,0.58,1.026,0.72,1.023,0.99,1.023,0.45,1.022,0.82,1.02,0.21,1.018,0.58,1.019,0.38,1.015,0.72,1.015,0.92,1.017,0.17,1.011,0.51,1.01,0.75,1.009,0.27,1.006,0.92,1.011,0.62,1.005,0.21,1.003,0.41,1,0.79,1.003,0.24,0.998,0.65,0.998,0.51,1.001,0.92,0.997,0.38,0.99,0.75,0.993,0.96,0.991,0.41,0.986,0.24,0.984,0.65,0.982,0.96,0.987,
0.27,0.878,0.63,0.907,0.82,0.909,0.24,0.915,0.3,0.896,0.15,0.928,1.03,0.923,0.17,0.934,0.36,0.933,0.51,0.934,0.79,0.932,0.27,0.943,0.49,0.944,0.7,0.941,0.95,0.943,0.39,0.948,0.49,0.948,0.78,0.95,1.01,0.949,0.42,0.954,0.51,0.953,0.63,0.956,0.73,0.955,0.21,0.959,0.6,0.959,0.9,0.958,0.41,0.961,0.53,0.963,0.75,0.961,0.15,0.964,0.32,0.965,0.63,0.965,0.84,0.965,0.96,0.966,0.15,0.967,0.96,0.97,0.61,0.969,0.22,0.974,0.39,0.972,0.6,0.973,0.42,0.976,0.66,0.977,0.63,0.98,0.84,0.983,1.04,0.978,0.18,0.982,0.42,0.984,0.29,0.986,0.7,0.982,1.01,0.986,0.94,0.99,0.6,0.989,0.36,0.988,0.18,0.988,0.7,0.995,0.84,0.995,0.49,0.996,0.22,0.998,0.42,1,0.32,1.002,0.7,1.001,1.01,1.003,
0.32,1.03,0.9,1.028,0.3,1.018,0.48,1.016,0.66,1.013,0.86,1.005,0.33,1.008,0.47,1.006,0.58,1.002,0.7,1.006,0.85,1,0.16,1,0.32,0.995,0.56,0.992,0.85,0.992,0.24,0.992,
0.25,1.033,0.5,1.034,0.82,1.034,0.36,1.026,0.66,1.027,0.9,1.02,0.2,1.022,0.45,1.013,0.62,1.019,0.78,1.012,0.32,1.012,0.98,1.011,0.18,1.006,0.4,1.006,0.56,1.008,0.68,1.002,0.86,1.01,0.3,0.999,0.48,0.995,0.66,0.992,0.8,0.999,0.98,1.0,0.15,0.994,0.32,0.988,0.52,0.985,0.72,0.986,0.88,0.982,0.28,0.978,0.5,0.977,0.78,0.975,0.92,0.972,0.17,0.974,0.33,0.968,0.5,0.968,0.72,0.97,0.24,0.962,0.55,0.955,0.8,0.956];
const rightQ5 = [4.5,1.3155,4.24,1.293,5.67,1.2415,1.77,1.212,3.68,1.206,5.43,1.197,2.69,1.192,4.01,1.155,4.88,1.153,3.19,1.145,1.65,1.141,1.55,1.138,2.29,1.139,2.36,1.137,2.35,1.135,1.43,1.13,3.1,1.128,1.9,1.124,1.04,1.12,1.11,1.116,1.24,1.116,2.27,1.118,3,1.118,3.76,1.114,3.03,1.112,1.21,1.11,1.3,1.11,9.5,1.1115,10.72,1.1165,
1.97,1.106,2.36,1.104,3.71,1.106,2.84,1.098,2.6,1.095,3.51,1.094,3.7,1.095,1.17,1.091,1.25,1.087,2.24,1.087,2.3,1.085,2.88,1.087,3,1.089,3.16,1.09,3.46,1.087,1.3,1.08,1.59,1.08,1.2,1.074,2.66,1.075,3,1.073,3.08,1.073,3.37,1.077,3.41,1.076,3.95,1.076,1.56,1.067,1.68,1.068,1.94,1.065,2.58,1.066,2.79,1.068,4.14,1.067,1.21,1.062,1.12,1.059,1.82,1.059,2.18,1.059,2.62,1.061,2.82,1.061,1.51,1.055,1.58,1.054,3.11,1.052,3.23,1.051,3.4,1.052,2.61,1.05,2.79,1.05,2.92,1.048,5.89,1.056,6.05,1.053,1.1,1.048,1.23,1.048,1.44,1.049,1.54,1.047,1.73,1.047,1.93,1.048,2.18,1.047,1.93,1.045,3.61,1.044,8.56,1.043,8.42,1.036,3.16,1.042,2.76,1.041,2.55,1.04,2.5,1.038,2.12,1.041,1.84,1.041,1.93,1.041,1.49,1.042,1.16,1.039,1.42,1.039,2.18,1.039,2.99,1.038,3.46,1.04,4.16,1.04,4.43,1.036,3.56,1.036,1.67,1.036,1.79,1.037,1.06,1.035,1.2,1.034,1.34,1.035,1.57,1.033,1.47,1.032,2.02,1.034,2.12,1.033,2.27,1.032,2.62,1.032,2.88,1.034,1.23,1.03,1.37,1.029,1.44,1.028,1.27,1.027,1.62,1.028,1.86,1.029,2.19,1.027,2.38,1.026,4.03,1.029,1.16,1.024,1.32,1.023,1.68,1.024,2.18,1.024,2.25,1.023,3.51,1.023,1.44,1.02,1.27,1.019,1.81,1.019,1.95,1.021,2.36,1.02,2.44,1.02,2.71,1.021,2.71,1.018,2.99,1.019,5.4,1.02,5.51,1.021,5.7,1.012,7.37,1.012,4.79,1.014,1.1,1.016,1.59,1.016,1.73,1.014,1.98,1.014,1.59,1.011,2.62,1.012,2.88,1.012,3.06,1.013,2.18,1.009,2.25,1.009,3.84,1.009,1.06,1.01,1.33,1.01,1.27,1.007,1.1,1.006,0.97,1.005,1.37,1.003,2,1.008,2.05,1.005,2.54,1.007,2.81,1.006,2.64,1.004,2.98,1.004,3.07,1.003,4.89,1.002,3.82,1,2.6,1.001,1.75,1.001,1.85,1,2.09,1.001,2.02,0.998,1.27,1.001,1.47,0.999,1.61,0.998,3,0.997,2.33,0.997,2.23,0.995,1.05,0.996,1.16,0.994,1.34,0.997,1.49,0.994,1.81,0.996,1.92,0.995,4.26,0.995,2.02,0.993,1.76,0.992,2.42,0.992,1.95,0.99,2.77,0.99,1.3,0.989,1.44,0.989,2.08,0.99,2.25,0.989,1.64,0.988,1.2,0.987,1.3,0.986,2.18,0.986,1.88,0.986,1.93,0.984,1.48,0.984,2.45,0.985,2.67,0.984,2.58,0.983,2.94,0.983,2.47,0.981,2.81,0.98,1.71,0.98,1.3,0.981,1.1,0.979,1.23,0.979,1.37,0.978,1.2,0.976,2.03,0.977,1.53,0.975,1.98,0.975,2.45,0.975,2.91,0.974,3.81,0.977,1.71,0.972,1.92,0.971,2.06,0.967,1.55,0.969,2.41,0.97,3.99,0.969,1.08,0.967,1.27,0.966,1.38,0.965,1.85,0.965,2.47,0.965,3.12,0.966,3.07,0.964,3.42,0.964,1.13,0.961,2.1,0.96,1.51,0.96,3.58,0.959,2.47,0.957,2.08,0.956,2.28,0.955,1.58,0.956,1.2,0.957,1.1,0.955,
3.44,0.964,3.59,0.959,3.37,0.948,2.64,0.946,2.22,0.933,2.55,0.928,1.59,0.937,1.66,0.934,1.11,0.931,1.11,0.927,1.45,0.923,1.6,0.918,2.04,0.886,1.12,0.941,1.23,0.94,1.44,0.951,1.82,0.949,1.32,0.947,1.21,0.947,1.18,0.943,1.12,0.955,1.23,0.956,1.59,0.956,2.09,0.956,2.29,0.955,2.48,0.957,1.14,0.962,1.51,0.96,2.12,0.961,1.08,0.967,1.28,0.966,1.4,0.966,1.86,0.965,2.07,0.967,2.48,0.965,1.58,0.969,2.43,0.97,1.93,0.971,1.73,0.972,1.52,0.976,1.38,0.974,2,0.975,2.46,0.975,1.11,0.979,1.32,0.979,1.73,0.98,2.05,0.978,1.93,0.985,2.47,0.982,2.65,0.984,2.82,0.981,2.95,0.983];

const pairs = (flat: number[]) => {
  const out: { x: number; y: number }[] = [];
  for (let i = 0; i < flat.length; i += 2) out.push({ x: flat[i], y: flat[i + 1] });
  return out;
};
const line = (ys: number[]) => fitX.map((x, i) => ({ x, y: ys[i] }));
const FONT = "'Liberation Serif'";

const panelBg = {
  id: "panelBg",
  beforeDraw(chart: any) {
    const { ctx, chartArea: a } = chart;
    ctx.save();
    ctx.fillStyle = "#EBEBEB";
    ctx.fillRect(a.left, a.top, a.right - a.left, a.bottom - a.top);
    ctx.restore();
  },
};

function axis(major: number[], minor: number[], min: number, max: number, title: string, fmt: (v: number) => string, fit: any, padding: any, tickPad: number) {
  return {
    type: "linear",
    min,
    max,
    afterBuildTicks(s: any) {
      s.ticks = [...major, ...minor].sort((a, b) => a - b).map((value) => ({ value }));
    },
    afterFit(s: any) {
      Object.assign(s, fit);
      s.paddingTop = s.paddingBottom = s.paddingLeft = s.paddingRight = 0;
    },
    border: { display: false },
    grid: {
      color: "#FFFFFF",
      lineWidth: (c: any) => (c.tick && major.includes(c.tick.value) ? 2.2 : 1.2),
      tickColor: (c: any) => (c.tick && major.includes(c.tick.value) ? "#333333" : "rgba(0,0,0,0)"),
      tickWidth: 1.6,
      tickLength: 6,
    },
    ticks: {
      autoSkip: false,
      maxRotation: 0,
      minRotation: 0,
      padding: tickPad,
      color: "#4D4D4D",
      font: { family: FONT, size: 27 },
      callback: (v: number) => (major.includes(v) ? fmt(v) : ""),
    },
    title: { display: true, text: title, color: "#000000", font: { family: FONT, size: 27.4, lineHeight: 1 }, padding },
  };
}

function Panel(p: any) {
  const ref = useRef<HTMLCanvasElement>(null);
  useEffect(() => {
    const pointSet = (data: number[], i: number) => ({
      type: "scatter",
      label: quintileNames[i],
      data: pairs(data),
      order: 5 - i,
      backgroundColor: quintileColors[i],
      pointStyle: "rectRot",
      pointRadius: 3.4,
      pointBorderWidth: 0,
      showLine: false,
    });
    const chart = new Chart(ref.current as any, {
      type: "scatter",
      plugins: [panelBg],
      data: {
        datasets: [
          ...p.quintiles.map(pointSet),
          { type: "line", label: "fit", data: line(p.fit), order: 8, borderColor: "#3366FF", borderWidth: 5, pointRadius: 0, fill: false },
          { type: "line", label: "upper", data: line(p.upper), order: 9, borderWidth: 0, borderColor: "rgba(0,0,0,0)", pointRadius: 0, fill: false },
          { type: "line", label: "lower", data: line(p.lower), order: 9, borderWidth: 0, borderColor: "rgba(0,0,0,0)", pointRadius: 0, fill: "-1", backgroundColor: "rgba(153,153,153,0.4)" },
        ],
      },
      options: {
        responsive: false,
        animation: false,
        events: [],
        devicePixelRatio: 1,
        layout: { padding: 0 },
        plugins: { legend: { display: false }, tooltip: { enabled: false } },
        scales: {
          x: axis(xMajor, xMinor, p.xMin, p.xMax, "Deprivation level", (v) => String(v), { height: 66 }, { top: 0, bottom: 4 }, 0),
          y: axis(p.yMajor, p.yMinor, p.yMin, p.yMax, p.yTitle, p.fmt, { width: p.yWidth }, { top: 0, bottom: 0 }, 4),
        },
      } as any,
    } as any);
    return () => chart.destroy();
  }, []);
  return <canvas ref={ref} width={p.width} height={1070 + p.lift} style={{ position: "absolute", left: p.left, top: -p.lift, width: p.width, height: 1070 + p.lift }} />;
}

const legendKeys = [
  { key: 455, text: 509 },
  { key: 814, text: 867 },
  { key: 991, text: 1044 },
  { key: 1167, text: 1220 },
  { key: 1343, text: 1397 },
];

export default function App() {
  const textStyle: any = { position: "absolute", top: 1083, height: 40, lineHeight: "40px", fontFamily: FONT, fontSize: 27.4, color: "#000", whiteSpace: "nowrap" };
  return (
    <div style={{ position: "absolute", left: 0, top: 0, width: 1944, height: 1126, overflow: "hidden", background: "#fff" }}>
      <Panel left={0} width={963.5} lift={2} yWidth={79} xMin={-6.65} xMax={11.55} yMin={-13.8} yMax={291.6}
        yMajor={leftYMajor} yMinor={leftYMinor} yTitle="Low birth weight rate" fmt={(v: number) => String(v)}
        fit={leftFit} upper={leftUpper} lower={leftLower} quintiles={[leftQ1, leftQ2, leftQ3, leftQ4, leftQ5]} />
      <Panel left={982.5} width={966} lift={1} yWidth={72} xMin={-6.65} xMax={11.58} yMin={0.8229} yMax={1.338}
        yMajor={rightYMajor} yMinor={rightYMinor} yTitle="SIR for low birth weight" fmt={(v: number) => v.toFixed(1)}
        fit={rightFit} upper={rightUpper} lower={rightLower} quintiles={[rightQ1, rightQ2, rightQ3, rightQ4, rightQ5]} />
      <div style={{ ...textStyle, left: 257 }}>Deprivation level</div>
      {legendKeys.map((k, i) => (
        <React.Fragment key={i}>
          <div style={{ position: "absolute", left: k.key, top: 1083, width: 40, height: 40, background: "#F2F2F2" }}>
            <div style={{ position: "absolute", left: 17, top: 17, width: 6, height: 6, background: quintileColors[i], clipPath: "polygon(50% 0, 100% 50%, 50% 100%, 0 50%)" }} />
          </div>
          <div style={{ ...textStyle, left: k.text }}>{quintileNames[i]}</div>
        </React.Fragment>
      ))}
    </div>
  );
}
